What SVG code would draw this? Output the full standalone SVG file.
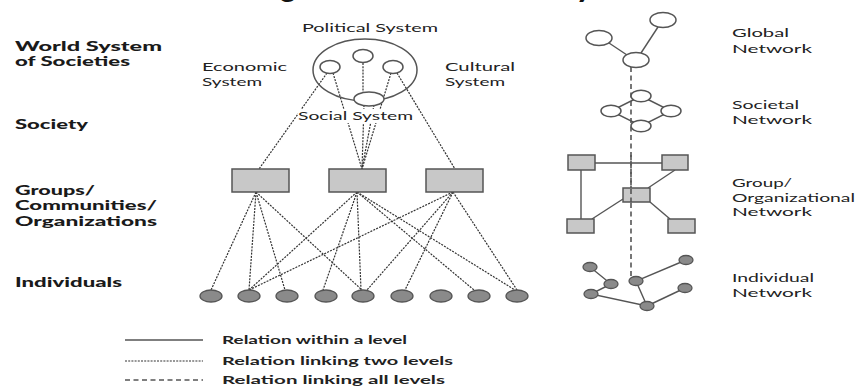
<svg xmlns="http://www.w3.org/2000/svg" width="861" height="388" viewBox="0 0 861 388">
  <style>
    .lvl { font-family: Lato, "DejaVu Sans", sans-serif; font-weight: 900; font-size: 13px; fill: #1a1a1a; }
    .lbl { font-family: Lato, "DejaVu Sans", sans-serif; font-size: 12px; fill: #222; }
    .leg { font-family: Lato, "DejaVu Sans", sans-serif; font-weight: bold; font-size: 12px; fill: #222; }
    .ttl { font-family: Lato, "DejaVu Sans", sans-serif; font-weight: 900; font-size: 30px; fill: #111; }
    .hollow { fill: #fff; stroke: #555; stroke-width: 1.5; }
    .ring { fill: none; stroke: #555; stroke-width: 1.5; }
    .box { fill: #c8c8c8; stroke: #555; stroke-width: 1.5; }
    .person { fill: #8a8a8a; stroke: #555; stroke-width: 1.3; }
    .solid { stroke: #555; stroke-width: 1.4; fill: none; }
    .dotted { stroke: #333; stroke-width: 1.2; stroke-dasharray: 2 1.2; fill: none; }
    .dashed { stroke: #555; stroke-width: 1.6; stroke-dasharray: 5 3.5; fill: none; }
  </style>

  <!-- title, running off the top edge -->
  <text class="ttl" x="280" y="-3">g</text>
  <text class="ttl" x="576" y="-3">y</text>

  <!-- level names -->
  <g id="level-labels">
    <text class="lvl" x="15" y="51" textLength="147" lengthAdjust="spacingAndGlyphs">World System</text>
    <text class="lvl" x="15" y="66" textLength="115" lengthAdjust="spacingAndGlyphs">of Societies</text>
    <text class="lvl" x="15" y="129" textLength="73" lengthAdjust="spacingAndGlyphs">Society</text>
    <text class="lvl" x="15" y="195" textLength="80" lengthAdjust="spacingAndGlyphs">Groups/</text>
    <text class="lvl" x="15" y="210" textLength="142" lengthAdjust="spacingAndGlyphs">Communities/</text>
    <text class="lvl" x="15" y="226" textLength="142" lengthAdjust="spacingAndGlyphs">Organizations</text>
    <text class="lvl" x="15" y="287" textLength="107" lengthAdjust="spacingAndGlyphs">Individuals</text>
  </g>

  <!-- connectors -->
  <g id="connectors">
    <!-- society: subsystems to social system and to groups -->
    <line class="dotted" x1="363" y1="63" x2="363" y2="92"/>
    <line class="dotted" x1="327" y1="73" x2="259" y2="169"/>
    <line class="dotted" x1="333" y1="73" x2="362" y2="169"/>
    <line class="dotted" x1="364" y1="105" x2="362" y2="169"/>
    <line class="dotted" x1="374" y1="105" x2="362" y2="169"/>
    <line class="dotted" x1="391" y1="73" x2="362" y2="169"/>
    <line class="dotted" x1="397" y1="73" x2="455" y2="169"/>

    <!-- groups to individuals -->
    <line class="dotted" x1="256" y1="192" x2="211" y2="290"/>
    <line class="dotted" x1="256" y1="192" x2="249" y2="290"/>
    <line class="dotted" x1="256" y1="192" x2="285" y2="290"/>
    <line class="dotted" x1="256" y1="192" x2="362" y2="290"/>
    <line class="dotted" x1="357" y1="192" x2="249" y2="290"/>
    <line class="dotted" x1="357" y1="192" x2="323" y2="290"/>
    <line class="dotted" x1="357" y1="192" x2="361" y2="290"/>
    <line class="dotted" x1="357" y1="192" x2="474" y2="290"/>
    <line class="dotted" x1="357" y1="192" x2="515" y2="290"/>
    <line class="dotted" x1="453" y1="192" x2="249" y2="290"/>
    <line class="dotted" x1="453" y1="192" x2="367" y2="290"/>
    <line class="dotted" x1="453" y1="192" x2="405" y2="290"/>
    <line class="dotted" x1="453" y1="192" x2="517" y2="290"/>

    <!-- network view: line through all levels -->
    <line class="dashed" x1="631" y1="67" x2="631" y2="277"/>

    <!-- global network -->
    <line class="solid" x1="609" y1="43" x2="627" y2="55"/>
    <line class="solid" x1="641" y1="53" x2="658" y2="27"/>
    <!-- societal network -->
    <polyline class="solid" points="641,96 611,111 641,126 671,111 641,96"/>
    <!-- group network -->
    <line class="solid" x1="595" y1="163" x2="662" y2="163"/>
    <line class="solid" x1="581" y1="170" x2="581" y2="219"/>
    <line class="solid" x1="675" y1="170" x2="648" y2="188"/>
    <line class="solid" x1="623" y1="199" x2="592" y2="219"/>
    <line class="solid" x1="650" y1="202" x2="670" y2="219"/>
    <!-- individual network -->
    <polyline class="solid" points="590,267 611,284 591,294 647,306 636,281 686,260"/>
    <line class="solid" x1="647" y1="306" x2="685" y2="288"/>
  </g>

  <!-- society: political, economic, cultural and social subsystems -->
  <g id="society">
    <ellipse class="ring" cx="365" cy="70" rx="52" ry="31"/>
    <ellipse class="hollow" cx="363" cy="56" rx="10" ry="6.5"/>
    <ellipse class="hollow" cx="330" cy="67" rx="10" ry="6.5"/>
    <ellipse class="hollow" cx="393" cy="67" rx="10" ry="6.5"/>
    <ellipse class="hollow" cx="369" cy="99" rx="15" ry="7"/>
    <text class="lbl" x="302" y="32" textLength="136" lengthAdjust="spacingAndGlyphs">Political System</text>
    <text class="lbl" x="202" y="71" textLength="85" lengthAdjust="spacingAndGlyphs">Economic</text>
    <text class="lbl" x="202" y="86" textLength="60" lengthAdjust="spacingAndGlyphs">System</text>
    <text class="lbl" x="445" y="71" textLength="70" lengthAdjust="spacingAndGlyphs">Cultural</text>
    <text class="lbl" x="445" y="86" textLength="60" lengthAdjust="spacingAndGlyphs">System</text>
    <rect x="298" y="109" width="115" height="14" fill="#fff"/>
    <text class="lbl" x="298" y="120" textLength="115" lengthAdjust="spacingAndGlyphs">Social System</text>
  </g>

  <!-- groups / communities / organizations -->
  <g id="groups">
    <rect class="box" x="232" y="169" width="57" height="23"/>
    <rect class="box" x="329" y="169" width="57" height="23"/>
    <rect class="box" x="426" y="169" width="57" height="23"/>
  </g>

  <!-- individuals -->
  <g id="individuals">
    <ellipse class="person" cx="211" cy="296" rx="11" ry="6"/>
    <ellipse class="person" cx="249" cy="296" rx="11" ry="6"/>
    <ellipse class="person" cx="287" cy="296" rx="11" ry="6"/>
    <ellipse class="person" cx="326" cy="296" rx="11" ry="6"/>
    <ellipse class="person" cx="363" cy="296" rx="11" ry="6"/>
    <ellipse class="person" cx="402" cy="296" rx="11" ry="6"/>
    <ellipse class="person" cx="441" cy="296" rx="11" ry="6"/>
    <ellipse class="person" cx="479" cy="296" rx="11" ry="6"/>
    <ellipse class="person" cx="517" cy="296" rx="11" ry="6"/>
  </g>

  <!-- network view of the same levels -->
  <g id="global-network">
    <ellipse class="hollow" cx="663" cy="20" rx="13" ry="7.5"/>
    <ellipse class="hollow" cx="599" cy="38" rx="13" ry="7.5"/>
    <ellipse class="hollow" cx="636" cy="60" rx="13" ry="7.5"/>
    <text class="lbl" x="732" y="37" textLength="57" lengthAdjust="spacingAndGlyphs">Global</text>
    <text class="lbl" x="732" y="53" textLength="80" lengthAdjust="spacingAndGlyphs">Network</text>
  </g>
  <g id="societal-network">
    <ellipse class="hollow" cx="641" cy="96" rx="10" ry="5.7"/>
    <ellipse class="hollow" cx="611" cy="111" rx="10" ry="5.7"/>
    <ellipse class="hollow" cx="671" cy="111" rx="10" ry="5.7"/>
    <ellipse class="hollow" cx="641" cy="126" rx="10" ry="5.7"/>
    <text class="lbl" x="732" y="109" textLength="67" lengthAdjust="spacingAndGlyphs">Societal</text>
    <text class="lbl" x="732" y="124" textLength="80" lengthAdjust="spacingAndGlyphs">Network</text>
  </g>
  <g id="group-network">
    <rect class="box" x="568" y="155" width="27" height="15"/>
    <rect class="box" x="662" y="155" width="26" height="15"/>
    <rect class="box" x="623" y="188" width="27" height="14"/>
    <rect class="box" x="567" y="219" width="27" height="14"/>
    <rect class="box" x="668" y="219" width="27" height="14"/>
    <line class="dashed" x1="631" y1="155" x2="631" y2="205"/>
    <text class="lbl" x="732" y="187" textLength="60" lengthAdjust="spacingAndGlyphs">Group/</text>
    <text class="lbl" x="732" y="202" textLength="123" lengthAdjust="spacingAndGlyphs">Organizational</text>
    <text class="lbl" x="732" y="216" textLength="80" lengthAdjust="spacingAndGlyphs">Network</text>
  </g>
  <g id="individual-network">
    <ellipse class="person" cx="590" cy="267" rx="7" ry="4.5"/>
    <ellipse class="person" cx="611" cy="284" rx="7" ry="4.5"/>
    <ellipse class="person" cx="591" cy="294" rx="7" ry="4.5"/>
    <ellipse class="person" cx="636" cy="281" rx="7" ry="4.5"/>
    <ellipse class="person" cx="686" cy="260" rx="7" ry="4.5"/>
    <ellipse class="person" cx="685" cy="288" rx="7" ry="4.5"/>
    <ellipse class="person" cx="647" cy="306" rx="7" ry="4.5"/>
    <text class="lbl" x="732" y="282" textLength="82" lengthAdjust="spacingAndGlyphs">Individual</text>
    <text class="lbl" x="732" y="297" textLength="80" lengthAdjust="spacingAndGlyphs">Network</text>
  </g>

  <!-- legend -->
  <g id="legend">
    <line class="solid" x1="125" y1="340" x2="203" y2="340" stroke-width="1.2"/>
    <line class="dotted" x1="125" y1="361" x2="203" y2="361" stroke-width="1"/>
    <line class="dashed" x1="125" y1="380" x2="203" y2="380" stroke-dasharray="8 8.5" stroke-width="1.2"/>
    <text class="leg" x="222" y="344" textLength="185" lengthAdjust="spacingAndGlyphs">Relation within a level</text>
    <text class="leg" x="222" y="365" textLength="231" lengthAdjust="spacingAndGlyphs">Relation linking two levels</text>
    <text class="leg" x="222" y="384" textLength="223" lengthAdjust="spacingAndGlyphs">Relation linking all levels</text>
  </g>
</svg>
